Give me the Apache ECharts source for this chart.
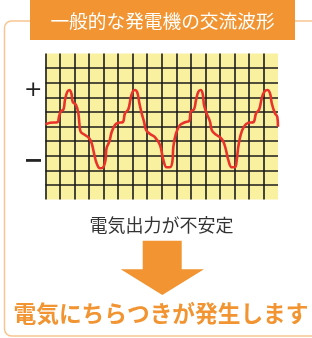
<!DOCTYPE html>
<html><head><meta charset="utf-8">
<script src="https://cdn.jsdelivr.net/npm/echarts@6/dist/echarts.min.js"></script>
<style>html,body{margin:0;padding:0;background:#fff}#c{width:312px;height:338px}</style>
</head><body><div id="c"></div>
<script>
// Title and captions
var titleText = '一般的な発電機の交流波形';
var captionText = '電気出力が不安定';
var resultText = '電気にちらつきが発生します';
var plusLabel = '+';
var minusLabel = '−';
// Waveform (x in grid cells, y in grid cells from centre line)
var waveX = [0.0,0.31,0.81,0.93,1.05,1.24,1.34,1.50,1.65,1.79,1.87,2.10,2.26,2.33,2.42,2.72,3.01,3.18,3.34,3.52,3.75,3.96,4.13,4.20,4.39,4.56,4.78,5.01,5.31,5.47,5.70,5.86,6.00,6.16,6.32,6.46,6.62,6.78,6.92,7.19,7.54,7.88,8.11,8.34,8.57,8.73,8.80,8.98,9.26,9.60,9.90,9.99,10.22,10.36,10.52,10.68,10.82,10.91,11.09,11.32,11.44,11.67,12.01,12.24,12.42,12.58,12.81,13.04,13.16,13.27,13.43,13.66,13.96,14.30,14.49,14.71,14.88,15.06,15.27,15.45,15.57,15.79,15.95,16.0];
var waveY = [0.14,0.26,0.29,0.67,1.03,1.18,1.82,2.38,2.50,2.23,1.70,1.47,0.90,0.22,-0.36,-0.58,-0.81,-1.15,-1.84,-2.52,-2.86,-2.81,-2.29,-1.49,-1.04,-0.36,0.10,0.26,0.29,0.90,1.18,1.93,2.38,2.50,2.32,1.59,0.90,0.33,-0.24,-0.51,-0.74,-1.27,-2.29,-2.79,-2.79,-2.41,-1.38,-0.47,0.10,0.29,0.40,1.01,1.18,1.82,2.38,2.50,2.23,1.47,0.90,0.33,-0.24,-0.51,-0.74,-1.04,-1.61,-2.29,-2.79,-2.79,-2.29,-1.38,-0.58,-0.01,0.26,0.29,0.90,1.18,1.93,2.38,2.50,2.27,1.59,0.90,0.67,-0.01];

var ORANGE = '#f19431';
var JP = '"Noto Sans CJK JP", sans-serif';
var data = waveX.map(function (x, i) { return [x, waveY[i]]; });

var chart = echarts.init(document.getElementById('c'), null, {renderer: 'canvas'});
chart.setOption({
  animation: false,
  grid: {left: 45.5, top: 53.5, width: 232.5, height: 146, show: true,
         backgroundColor: '#f9f0a0', borderWidth: 0},
  xAxis: {type: 'value', min: 0, max: 16, interval: 1,
          axisLine: {show: false}, axisTick: {show: false}, axisLabel: {show: false},
          splitLine: {show: true, showMaxLine: false, lineStyle: {color: '#1a1a1a', width: 1.6}}},
  yAxis: {type: 'value', min: -5, max: 5, interval: 1,
          axisLine: {show: false}, axisTick: {show: false}, axisLabel: {show: false},
          splitLine: {show: true, showMinLine: false, showMaxLine: false, lineStyle: {color: '#1a1a1a', width: 1.6}}},
  series: [{type: 'line', data: data, smooth: 0.4, showSymbol: false,
            lineStyle: {color: '#e8322a', width: 2.6}, z: 5}],
  graphic: [
    {type: 'rect', shape: {x: 4.5, y: 21, width: 330, height: 315, r: 7}, z: -10,
     style: {fill: 'none', stroke: '#f8c590', lineWidth: 1.5}},
    {type: 'rect', shape: {x: 30, y: 0, width: 265, height: 40}, z: -5,
     style: {fill: ORANGE}},
    {type: 'text', x: 162.5, y: 21, z: 10,
     style: {text: titleText, fill: '#fff', font: '18.7px ' + JP, align: 'center', verticalAlign: 'middle'}},
    {type: 'text', x: 33.3, y: 90.5, z: 10,
     style: {text: plusLabel, fill: '#222', font: '22px "DejaVu Sans"', align: 'center', verticalAlign: 'middle'}},
    {type: 'text', x: 33.3, y: 161.5, z: 10,
     style: {text: minusLabel, fill: '#222', font: 'bold 24px "DejaVu Sans"', align: 'center', verticalAlign: 'middle'}},
    {type: 'text', x: 161.5, y: 225, z: 10,
     style: {text: captionText, fill: '#333', font: '18px ' + JP, align: 'center', verticalAlign: 'middle'}},
    {type: 'polygon', z: 10,
     shape: {points: [[142.7, 240.7], [181.7, 240.7], [181.7, 269.3], [204, 269.3], [162.3, 295], [120.7, 269.3], [142.7, 269.3]]},
     style: {fill: ORANGE}},
    {type: 'text', x: 161, y: 313.5, z: 10,
     style: {text: resultText, fill: ORANGE, font: 'bold 22.7px ' + JP, align: 'center', verticalAlign: 'middle'}}
  ]
});
</script></body></html>
